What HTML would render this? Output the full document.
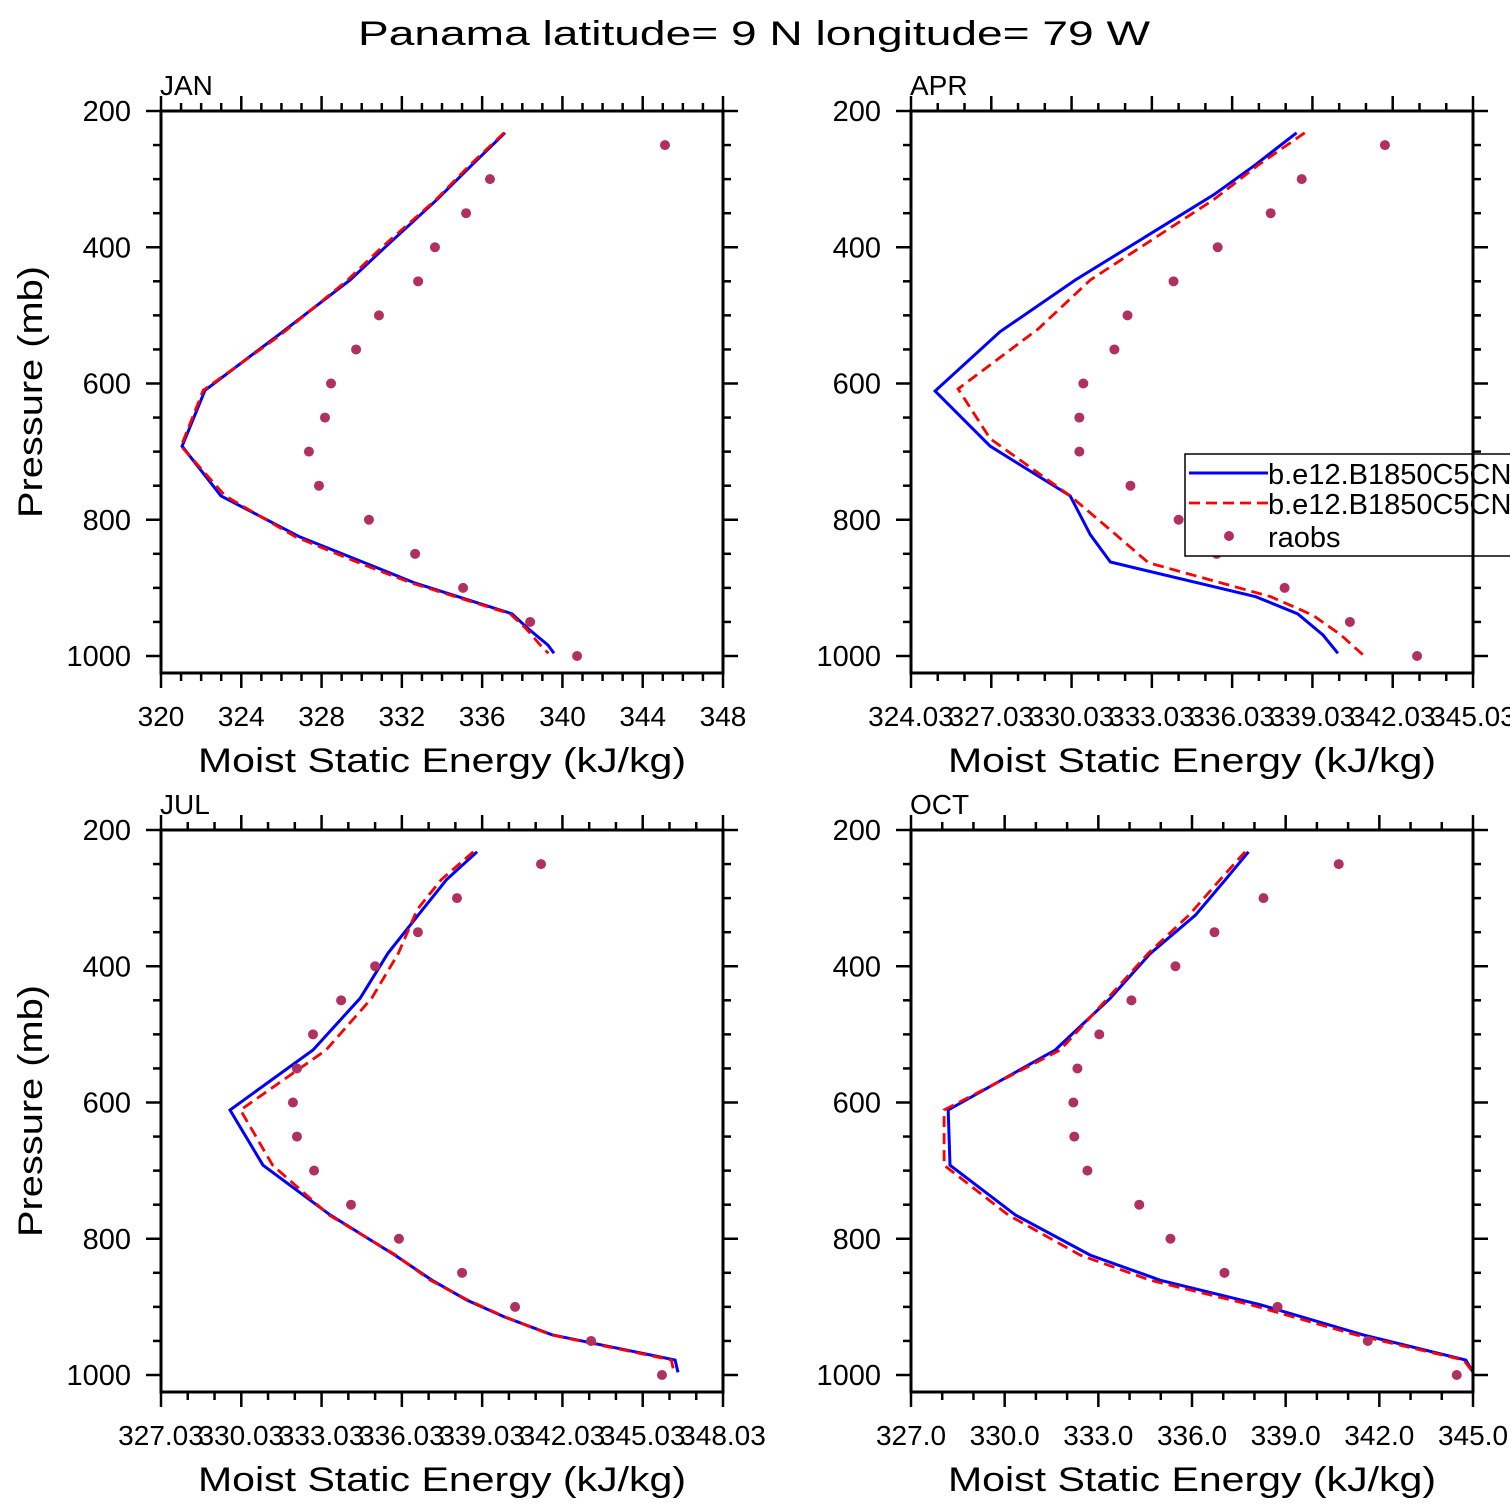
<!DOCTYPE html>
<html><head><meta charset="utf-8"><style>
html,body{margin:0;padding:0;background:#fff;overflow:hidden;width:1510px;height:1510px}
svg{display:block;font-family:"Liberation Sans",sans-serif}
</style></head><body>
<svg id="chart" width="1510" height="1510" viewBox="0 0 1510 1510" xmlns="http://www.w3.org/2000/svg">
<text x="754" y="45" font-size="34" text-anchor="middle" textLength="792" lengthAdjust="spacingAndGlyphs">Panama  latitude= 9 N longitude= 79 W</text>
</svg>
<script>
// ---------- data ----------
const raobsP = [250,300,350,400,450,500,550,600,650,700,750,800,850,900,950,1000];
const janRaobs = [345.11,336.39,335.20,333.65,332.81,330.86,329.72,328.47,328.17,327.37,327.87,330.36,332.66,335.05,338.39,340.73];
const janModelP = [232,279,330,400,448,530,610,692,765,825,865,893,938,960,984,996];
const janBlue = [337.14,335.5,333.75,331.16,329.42,325.8,322.19,321.05,322.99,326.9,330.3,332.66,337.49,338.3,339.28,339.58];
const janRed  = [337.1,335.4,333.7,331.0,329.3,325.9,322.1,321.0,323.2,326.7,330.0,332.5,337.4,338.2,338.9,339.3];
const aprRaobs = [341.74,338.63,337.47,335.49,333.84,332.12,331.63,330.47,330.32,330.32,332.23,334.03,335.45,337.99,340.43,342.94];
const aprBlueP = [232,279,323,448,524,611,692,765,822,862,913,938,969,996];
const aprBlue  = [338.44,336.9,335.34,330.17,327.36,324.93,326.99,329.98,330.73,331.48,336.91,338.48,339.42,339.98];
const aprRedP  = [232,279,330,448,520,608,681,765,815,863,913,940,969,998];
const aprRed   = [338.74,337.02,335.34,330.73,328.78,325.79,326.99,329.98,331.48,332.90,337.47,339.04,340.09,340.91];
const julRaobs = [341.23,338.09,336.63,335.03,333.76,332.71,332.11,331.96,332.11,332.75,334.13,335.92,338.28,340.26,343.10,345.75];
const julModelP = [232,273,317,381,447,523,611,692,765,824,861,890,915,941,978,996];
const julBlue = [338.84,337.7,336.8,335.51,334.47,332.71,329.61,330.84,333.35,335.77,337.16,338.46,339.88,341.64,346.24,346.35];
const julRed  = [338.7,337.5,336.6,335.9,334.9,333.2,330.0,331.2,333.3,335.8,337.1,338.5,339.9,341.6,346.1,346.2];
const octRaobs = [340.70,338.29,336.72,335.47,334.06,333.03,332.33,332.20,332.23,332.65,334.31,335.31,337.04,338.74,341.63,344.48];
const octModelP = [232,273,325,381,447,523,611,692,765,824,861,897,941,978,996];
const octBlue = [337.81,337.07,336.11,334.67,333.38,331.62,328.19,328.25,330.34,332.74,334.99,338.20,341.47,344.77,345.0];
const octRed  = [337.7,336.9,335.9,334.6,333.3,331.78,328.06,328.06,330.11,332.42,334.67,337.88,341.24,344.7,345.0];
const janTicks = ["320","324","328","332","336","340","344","348"];
const aprTicks = ["324.03","327.03","330.03","333.03","336.03","339.03","342.03","345.03"];
const julTicks = ["327.03","330.03","333.03","336.03","339.03","342.03","345.03","348.03"];
const octTicks = ["327.0","330.0","333.0","336.0","339.0","342.0","345.0"];
const yTicks = [200,400,600,800,1000];

const NS="http://www.w3.org/2000/svg";
const svg=document.getElementById('chart');
function mk(tag,attrs,parent){const e=document.createElementNS(NS,tag);for(const k in attrs)e.setAttribute(k,attrs[k]);(parent||svg).appendChild(e);return e;}

function panel(cfg){
  const g=mk('g',{});
  
  
  const L=cfg.x0,R=cfg.x0+562,T=cfg.y0,B=cfg.y0+562;
  const xs=v=>L+(v-cfg.xmin)/(cfg.xmax-cfg.xmin)*(R-L);
  const ys=p=>T+(p-200)*0.68125;
  const pts=(P,V)=>P.map((p,i)=>xs(V[i]).toFixed(1)+','+ys(p).toFixed(1)).join(' ');
  const clip=mk('clipPath',{id:'c'+cfg.name},g);
  mk('rect',{x:L,y:T,width:R-L+4,height:B-T},clip);
  const blue=mk('polyline',{points:pts(cfg.blueP,cfg.blue),fill:'none',stroke:'#0000ff','stroke-width':3,'clip-path':'url(#c'+cfg.name+')'},g);
  
  
  const red=mk('polyline',{points:pts(cfg.redP,cfg.red),fill:'none',stroke:'#ff0000','stroke-width':2.8,'stroke-dasharray':'11,6','clip-path':'url(#c'+cfg.name+')'},g);
  
  
  raobsP.forEach((p,i)=>{
    const c=mk('circle',{cx:xs(cfg.raobs[i]),cy:ys(p),r:5,fill:'#b03060'},g);
    
    
  });
  const f=mk('rect',{x:L,y:T,width:R-L,height:B-T,fill:'none',stroke:'#000','stroke-width':3},g);
  
  
  for(let p=200;p<=1000;p+=50){
    const maj=p%200===0, len=maj?15:8;
    mk('line',{x1:L-len,x2:L,y1:ys(p),y2:ys(p),stroke:'#000','stroke-width':2.5},g);
    mk('line',{x1:R,x2:R+len,y1:ys(p),y2:ys(p),stroke:'#000','stroke-width':2.5},g);
  }
  yTicks.forEach(p=>{
    const t=mk('text',{x:L-30,y:ys(p)+10,'font-size':29,'text-anchor':'end'},g);
    t.textContent=p;
    
    
  });
  for(let v=cfg.xmin;v<=cfg.xmax+1e-6;v+=cfg.minor){
    const k=Math.round((v-cfg.xmin)/cfg.minor);
    const maj=k%cfg.perMajor===0, len=maj?15:8;
    const x=xs(v);
    mk('line',{x1:x,x2:x,y1:T-len,y2:T,stroke:'#000','stroke-width':2.5},g);
    mk('line',{x1:x,x2:x,y1:B,y2:B+len,stroke:'#000','stroke-width':2.5},g);
  }
  cfg.ticks.forEach((lab,i)=>{
    const t=mk('text',{x:xs(cfg.xmin+i*cfg.step),y:B+53,'font-size':28,'text-anchor':'middle'},g);
    t.textContent=lab;
    
    
  });
  const pt=mk('text',{x:L-1,y:T-16,'font-size':28},g);
  pt.textContent=cfg.title;
  
  
  const xt=mk('text',{x:(L+R)/2,y:B+99,'font-size':34,'text-anchor':'middle',textLength:488,lengthAdjust:'spacingAndGlyphs'},g);
  xt.textContent='Moist Static Energy (kJ/kg)';
  
  
  if(cfg.ylab){
    const yt=mk('text',{x:0,y:0,'font-size':34,'text-anchor':'middle',textLength:252,lengthAdjust:'spacingAndGlyphs',transform:`translate(42,${T+281}) rotate(-90)`},g);
    yt.textContent='Pressure (mb)';
    
    
  }
}
panel({name:'jan',title:'JAN',x0:161,y0:111,xmin:320,xmax:348,step:4,minor:1,perMajor:4,ticks:janTicks,raobs:janRaobs,blueP:janModelP,blue:janBlue,redP:janModelP,red:janRed,ylab:true});
panel({name:'apr',title:'APR',x0:911,y0:111,xmin:324.03,xmax:345.03,step:3,minor:1,perMajor:3,ticks:aprTicks,raobs:aprRaobs,blueP:aprBlueP,blue:aprBlue,redP:aprRedP,red:aprRed,ylab:false});
panel({name:'jul',title:'JUL',x0:161,y0:830,xmin:327.03,xmax:348.03,step:3,minor:1,perMajor:3,ticks:julTicks,raobs:julRaobs,blueP:julModelP,blue:julBlue,redP:julModelP,red:julRed,ylab:true});
panel({name:'oct',title:'OCT',x0:911,y0:830,xmin:327,xmax:345,step:3,minor:1,perMajor:3,ticks:octTicks,raobs:octRaobs,blueP:octModelP,blue:octBlue,redP:octModelP,red:octRed,ylab:false});

const lg=mk('g',{});


mk('rect',{x:1185,y:454,width:400,height:102,fill:'#fff',stroke:'#000','stroke-width':1.5},lg);
mk('line',{x1:1189,x2:1268,y1:473,y2:473,stroke:'#0000ff','stroke-width':3},lg);
mk('line',{x1:1189,x2:1268,y1:503,y2:503,stroke:'#ff0000','stroke-width':2.8,'stroke-dasharray':'11,6'},lg);
mk('circle',{cx:1229,cy:536,r:5,fill:'#b03060'},lg);
[['b.e12.B1850C5CN',484,'legend-entry-model-1'],['b.e12.B1850C5CN',514,'legend-entry-model-2'],['raobs',547,'legend-entry-raobs']].forEach(d=>{
  const t=mk('text',{x:1268,y:d[1],'font-size':29},lg);
  t.textContent=d[0];
  
  
});
mk('line',{x1:1473,x2:1473,y1:440,y2:570,stroke:'#000','stroke-width':3});
[450,500,550].forEach(p=>mk('line',{x1:1473,x2:1473+(p%200===0?15:8),y1:111+(p-200)*0.68125,y2:111+(p-200)*0.68125,stroke:'#000','stroke-width':2.5}));
</script>
</body></html>
